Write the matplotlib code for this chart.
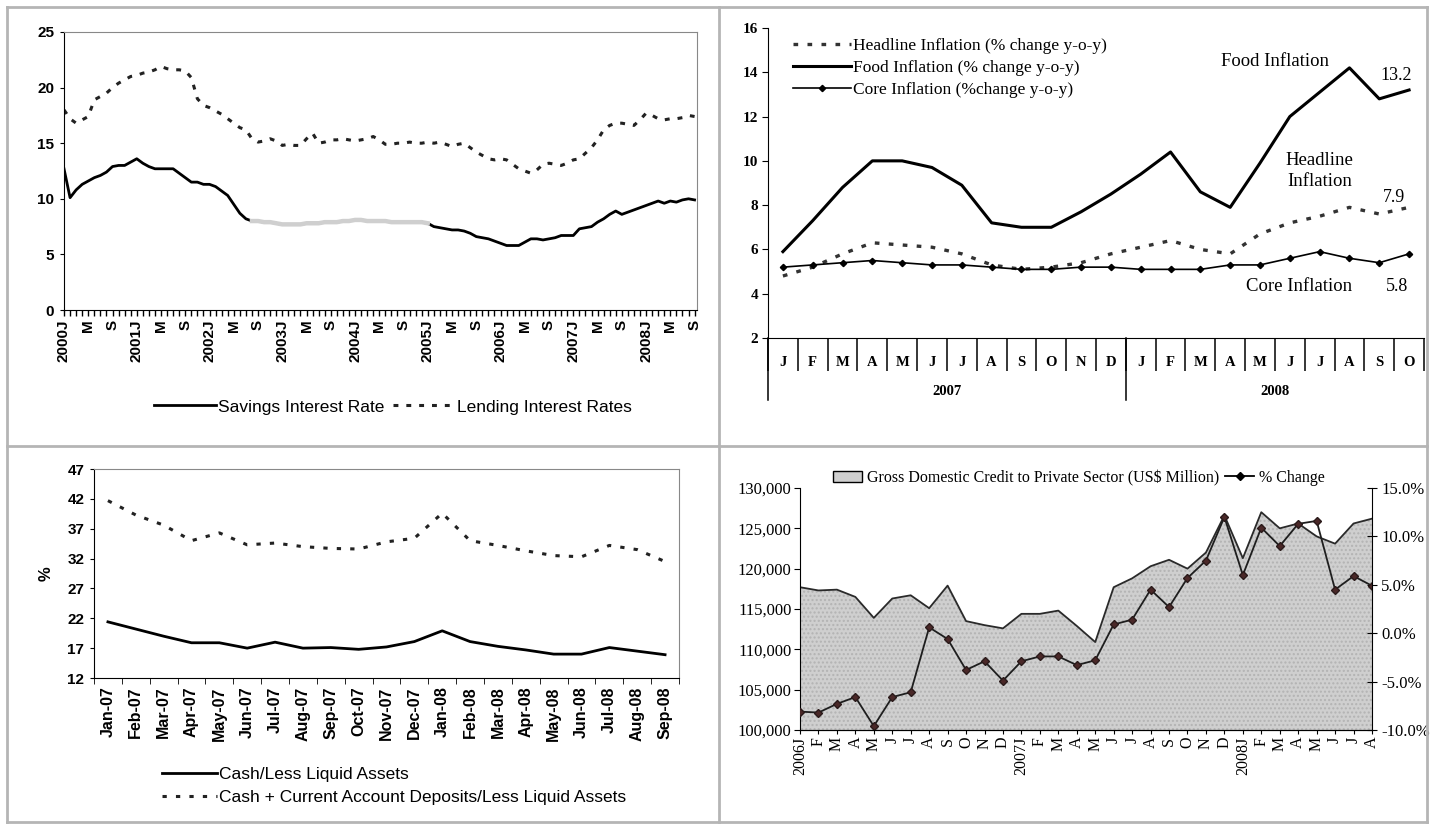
import numpy as np
import matplotlib
matplotlib.use("Agg")
import matplotlib.pyplot as plt
from matplotlib.lines import Line2D
from matplotlib.patches import Patch
from matplotlib.transforms import blended_transform_factory
from matplotlib.ticker import FuncFormatter

SANS = ["Liberation Sans Narrow", "Liberation Sans", "DejaVu Sans"]
SERIF = ["Liberation Serif", "DejaVu Serif"]

# ---- panel 1: interest rates, monthly Jan 2000 - Sep 2008
savings = [
    12.7, 10.1, 10.8, 11.3, 11.6, 11.9, 12.1, 12.4, 12.9, 13.0, 13.0, 13.3,  # 2000
    13.6, 13.2, 12.9, 12.7, 12.7, 12.7, 12.7, 12.3, 11.9, 11.5, 11.5, 11.3,  # 2001
    11.3, 11.1, 10.7, 10.3, 9.5, 8.7, 8.2, 8.0, 8.0, 7.9, 7.9, 7.8,          # 2002
    7.7, 7.7, 7.7, 7.7, 7.8, 7.8, 7.8, 7.9, 7.9, 7.9, 8.0, 8.0,              # 2003
    8.1, 8.1, 8.0, 8.0, 8.0, 8.0, 7.9, 7.9, 7.9, 7.9, 7.9, 7.9,              # 2004
    7.8, 7.5, 7.4, 7.3, 7.2, 7.2, 7.1, 6.9, 6.6, 6.5, 6.4, 6.2,              # 2005
    6.0, 5.8, 5.8, 5.8, 6.1, 6.4, 6.4, 6.3, 6.4, 6.5, 6.7, 6.7,              # 2006
    6.7, 7.3, 7.4, 7.5, 7.9, 8.2, 8.6, 8.9, 8.6, 8.8, 9.0, 9.2,              # 2007
    9.4, 9.6, 9.8, 9.6, 9.8, 9.7, 9.9, 10.0, 9.9,                            # 2008
]
lending = [
    18.0, 17.2, 16.8, 17.1, 17.4, 18.9, 19.2, 19.5, 20.0, 20.4, 20.7, 21.0,
    21.1, 21.3, 21.4, 21.6, 21.9, 21.7, 21.6, 21.6, 21.5, 20.9, 19.0, 18.4,
    18.2, 17.9, 17.6, 17.2, 16.8, 16.4, 16.2, 15.4, 15.1, 15.2, 15.4, 15.2,
    14.8, 14.9, 14.8, 14.8, 15.4, 15.9, 15.0, 15.1, 15.3, 15.3, 15.4, 15.3,
    15.2, 15.3, 15.4, 15.6, 15.3, 14.9, 14.9, 15.0, 15.0, 15.1, 15.0, 15.0,
    15.1, 15.0, 15.1, 14.9, 14.7, 14.9, 15.0, 14.6, 14.2, 13.9, 13.6, 13.5,
    13.6, 13.5, 13.1, 12.7, 12.5, 12.3, 12.6, 13.1, 13.2, 13.1, 13.0, 13.2,
    13.5, 13.6, 14.1, 14.6, 15.3, 16.2, 16.6, 16.8, 16.8, 16.7, 16.6, 17.1,
    17.7, 17.5, 17.2, 17.1, 17.2, 17.2, 17.3, 17.5, 17.4,
]

# ---- panel 2: inflation, Jan 2007 - Oct 2008
infl_months = list("JFMAMJJASONDJFMAMJJASO")
food = [5.9, 7.3, 8.8, 10.0, 10.0, 9.7, 8.9, 7.2, 7.0, 7.0, 7.7, 8.5,
        9.4, 10.4, 8.6, 7.9, 9.9, 12.0, 13.1, 14.2, 12.8, 13.2]
headline = [4.8, 5.2, 5.8, 6.3, 6.2, 6.1, 5.8, 5.3, 5.1, 5.2, 5.4, 5.8,
            6.1, 6.4, 6.0, 5.8, 6.7, 7.2, 7.5, 7.9, 7.6, 7.9]
core = [5.2, 5.3, 5.4, 5.5, 5.4, 5.3, 5.3, 5.2, 5.1, 5.1, 5.2, 5.2,
        5.1, 5.1, 5.1, 5.3, 5.3, 5.6, 5.9, 5.6, 5.4, 5.8]

# ---- panel 3: liquidity ratios, Jan-07 - Sep-08
liq_labels = ["Jan-07", "Feb-07", "Mar-07", "Apr-07", "May-07", "Jun-07", "Jul-07",
              "Aug-07", "Sep-07", "Oct-07", "Nov-07", "Dec-07", "Jan-08", "Feb-08",
              "Mar-08", "Apr-08", "May-08", "Jun-08", "Jul-08", "Aug-08", "Sep-08"]
cash_ratio = [21.4, 20.2, 19.0, 17.9, 17.9, 17.0, 18.0, 17.0, 17.1, 16.8, 17.2,
              18.1, 19.9, 18.1, 17.3, 16.7, 16.0, 16.0, 17.1, 16.5, 15.9]
cash_cad_ratio = [41.7, 39.3, 37.6, 35.0, 36.3, 34.3, 34.6, 34.0, 33.7, 33.6, 34.8,
                  35.4, 39.6, 35.0, 34.2, 33.3, 32.5, 32.3, 34.2, 33.5, 31.5]

# ---- panel 4: private sector credit, Jan 2006 - Aug 2008
credit = [117700, 117300, 117400, 116500, 113900, 116300, 116700, 115100, 117900,
          113500, 113000, 112600, 114400, 114400, 114800, 112900, 110900, 117700,
          118800, 120300, 121100, 120000, 122000, 126600, 121300, 127000, 125000,
          125600, 124000, 123100, 125600, 126200]
credit_chg = [-8.1, -8.2, -7.3, -6.6, -9.6, -6.6, -6.1, 0.6, -0.6, -3.8, -2.9, -4.9,
              -2.9, -2.4, -2.4, -3.3, -2.8, 0.9, 1.4, 4.5, 2.7, 5.7, 7.5, 12.0,
              6.0, 10.9, 9.0, 11.3, 11.6, 4.5, 5.9, 4.9]

W, H = 1431, 827
fig = plt.figure(figsize=(W / 100, H / 100), dpi=100)


def px_axes(left, top, right, bottom):
    return fig.add_axes([left / W, 1 - bottom / H, (right - left) / W, (bottom - top) / H])


# panel frames
for x0, y0, x1, y1 in [(7, 7, 7, 822), (719, 7, 719, 822), (1427, 7, 1427, 822),
                       (7, 7, 1427, 7), (7, 446, 1427, 446), (7, 822, 1427, 822)]:
    fig.add_artist(Line2D([x0 / W, x1 / W], [1 - y0 / H, 1 - y1 / H],
                          color="#b5b5b5", lw=2, transform=fig.transFigure))

# ================= panel 1
ax1 = px_axes(64, 32, 697, 310)
n1 = len(savings)
x1 = np.arange(n1)
ax1.plot(x1, savings, color="black", lw=2.0)
ax1.plot(x1[31:61], savings[31:61], color="#cfcfcf", lw=3.2)
ax1.plot(x1, lending, color="#222222", lw=2.2, ls=(0, (1.6, 2.6)))
ax1.set_xlim(0, 104.4)
ax1.set_ylim(0, 25)
ax1.set_yticks(range(0, 26, 5))
lab1 = []
for i in range(0, n1, 4):
    m = i % 12
    lab1.append(f"{2000 + i // 12}J" if m == 0 else ("M" if m == 4 else "S"))
ax1.set_xticks(range(0, n1, 4))
ax1.set_xticklabels(lab1, rotation=90, family=SANS, fontsize=11, fontweight="bold")
ax1.set_xticks(range(n1), minor=True)
ax1.tick_params(axis="x", which="both", direction="out", length=4, width=1, pad=3)
ax1.tick_params(axis="y", direction="out", length=3, labelsize=11, pad=4)
for t in ax1.get_yticklabels():
    t.set_family(SANS)
    t.set_fontweight("bold")
for s in ["top", "right"]:
    ax1.spines[s].set_color("#888888")
ax1.legend(handles=[Line2D([], [], color="black", lw=2),
                    Line2D([], [], color="#222222", lw=2.2, ls=(0, (1.6, 2.6)))],
           labels=["Savings Interest Rate", "Lending Interest Rates"],
           loc="center", bbox_to_anchor=(393 / W, 1 - 407 / H), bbox_transform=fig.transFigure,
           ncol=2, frameon=False, handlelength=3.6, handletextpad=0.1, columnspacing=0.5,
           prop={"family": SANS, "size": 12.5})

# ================= panel 2
ax2 = px_axes(768, 28, 1424, 338)
x2 = np.arange(len(food))
ax2.plot(x2, headline, color="#333333", lw=2.4, ls=(0, (1.4, 2.8)))
ax2.plot(x2, food, color="black", lw=2.2)
ax2.plot(x2, core, color="black", lw=1.2, marker="D", ms=3.2)
ax2.set_xlim(-0.5, 21.5)
ax2.set_ylim(2, 16)
ax2.set_yticks(range(2, 17, 2))
ax2.set_xticks(x2)
ax2.set_xticklabels(infl_months, family=SERIF, fontsize=10.5, fontweight="bold")
ax2.set_xticks(np.arange(-0.5, 22, 1), minor=True)
ax2.tick_params(axis="x", which="major", length=0, pad=13)
ax2.tick_params(axis="x", which="minor", direction="out", length=24, width=1.1)
ax2.tick_params(axis="y", direction="out", length=4, labelsize=11, pad=3)
for t in ax2.get_yticklabels():
    t.set_family(SERIF)
    t.set_fontweight("bold")
for s in ["top", "right"]:
    ax2.spines[s].set_visible(False)
bt2 = blended_transform_factory(ax2.transData, ax2.transAxes)
for xb in [-0.5, 11.5]:
    ax2.plot([xb, xb], [0, -0.2], color="black", lw=1.1, transform=bt2, clip_on=False)
ax2.text(5.5, -0.172, "2007", transform=bt2, ha="center", va="center",
         family=SERIF, fontsize=10.5, fontweight="bold")
ax2.text(16.5, -0.172, "2008", transform=bt2, ha="center", va="center",
         family=SERIF, fontsize=10.5, fontweight="bold")
ax2.text(16.5, 14.5, "Food Inflation", ha="center", va="center", family=SERIF, fontsize=13.5)
ax2.text(20.55, 13.85, "13.2", ha="center", va="center", family=SERIF, fontsize=13)
ax2.text(18.0, 9.55, "Headline\nInflation", ha="center", va="center", family=SERIF,
         fontsize=13.5, linespacing=1.35)
ax2.text(20.5, 8.35, "7.9", ha="center", va="center", family=SERIF, fontsize=13)
ax2.text(17.3, 4.33, "Core Inflation", ha="center", va="center", family=SERIF, fontsize=13.5)
ax2.text(20.6, 4.33, "5.8", ha="center", va="center", family=SERIF, fontsize=13)
ax2.legend(handles=[Line2D([], [], color="#333333", lw=2.4, ls=(0, (1.4, 2.8))),
                    Line2D([], [], color="black", lw=2.2),
                    Line2D([], [], color="black", lw=1.2, marker="D", ms=3.2)],
           labels=["Headline Inflation (% change y-o-y)", "Food Inflation (% change y-o-y)",
                   "Core Inflation (%change y-o-y)"],
           loc="upper left", bbox_to_anchor=(0.015, 1.02), frameon=False, handlelength=3.3,
           handletextpad=0.15, labelspacing=0.35, prop={"family": SERIF, "size": 12.5})

# ================= panel 3
ax3 = px_axes(94, 469, 679, 678)
x3 = np.arange(len(cash_ratio))
ax3.plot(x3, cash_ratio, color="black", lw=2.0)
ax3.plot(x3, cash_cad_ratio, color="#222222", lw=2.2, ls=(0, (1.4, 3.0)))
ax3.set_xlim(-0.5, 20.5)
ax3.set_ylim(12, 47)
ax3.set_yticks(range(12, 48, 5))
ax3.set_xticks(x3)
ax3.set_xticklabels(liq_labels, rotation=90, family=SANS, fontsize=11.5, fontweight="bold")
ax3.set_xticks(np.arange(-0.5, 21, 1), minor=True)
ax3.tick_params(axis="x", which="major", length=0, pad=6)
ax3.tick_params(axis="x", which="minor", direction="out", length=4)
ax3.tick_params(axis="y", direction="out", length=3, labelsize=11, pad=4)
for t in ax3.get_yticklabels():
    t.set_family(SANS)
    t.set_fontweight("bold")
ax3.set_ylabel("%", family=SANS, fontsize=12, fontweight="bold", labelpad=10)
for s in ["top", "right"]:
    ax3.spines[s].set_color("#888888")
ax3.legend(handles=[Line2D([], [], color="black", lw=2),
                    Line2D([], [], color="#222222", lw=2.2, ls=(0, (1.4, 3.0)))],
           labels=["Cash/Less Liquid Assets",
                   "Cash + Current Account Deposits/Less Liquid Assets"],
           loc="upper left", bbox_to_anchor=(146 / W, 1 - 751 / H), bbox_transform=fig.transFigure,
           frameon=False, handlelength=3.2, handletextpad=0.1, labelspacing=0.45,
           prop={"family": SANS, "size": 12.5})

# ================= panel 4
ax4 = px_axes(800, 488, 1372, 730)
x4 = np.arange(len(credit))
ax4.fill_between(x4, credit, 100000, facecolor="#cfcfcf", edgecolor="#b3b3b3",
                 hatch="....", lw=0)
ax4.plot(x4, credit, color="#2a2a2a", lw=1.3)
ax4.set_xlim(0, 31)
ax4.set_ylim(100000, 130000)
ax4.set_yticks(range(100000, 130001, 5000))
ax4.yaxis.set_major_formatter(FuncFormatter(lambda v, p: f"{int(v):,}"))
lab4 = []
for i in range(len(credit)):
    m = i % 12
    lab4.append(f"{2006 + i // 12}J" if m == 0 else "JFMAMJJASOND"[m])
ax4.set_xticks(x4)
ax4.set_xticklabels(lab4, rotation=90, family=SERIF, fontsize=11.5)
ax4.tick_params(axis="x", direction="out", length=3, pad=2)
ax4.tick_params(axis="y", direction="out", length=4, labelsize=12, pad=2)
for t in ax4.get_yticklabels():
    t.set_family(SERIF)
ax4.spines["top"].set_visible(False)
ax4.spines["right"].set_visible(False)

ax4r = ax4.twinx()
ax4r.plot(x4, credit_chg, color="#1e1e1e", lw=1.3, marker="D", ms=4.5,
          markerfacecolor="#4a2828", markeredgecolor="#2a1a1a")
ax4r.set_ylim(-10, 15)
ax4r.set_yticks(range(-10, 16, 5))
ax4r.yaxis.set_major_formatter(FuncFormatter(lambda v, p: f"{v:.1f}%"))
ax4r.tick_params(axis="y", direction="inout", length=7, labelsize=12, pad=3)
for t in ax4r.get_yticklabels():
    t.set_family(SERIF)
ax4r.spines["top"].set_visible(False)
ax4r.spines["left"].set_visible(False)
ax4r.legend(handles=[Patch(facecolor="#cfcfcf", edgecolor="black", lw=1),
                     Line2D([], [], color="black", lw=1.3, marker="D", ms=4.5)],
            labels=["Gross Domestic Credit to Private Sector (US$ Million)", "% Change"],
            loc="center", bbox_to_anchor=(1079 / W, 1 - 478 / H), bbox_transform=fig.transFigure,
            ncol=2, frameon=False, handlelength=1.8, handletextpad=0.3, columnspacing=0.4,
            prop={"family": SERIF, "size": 11.5})

fig.savefig("out.png", dpi=100)
